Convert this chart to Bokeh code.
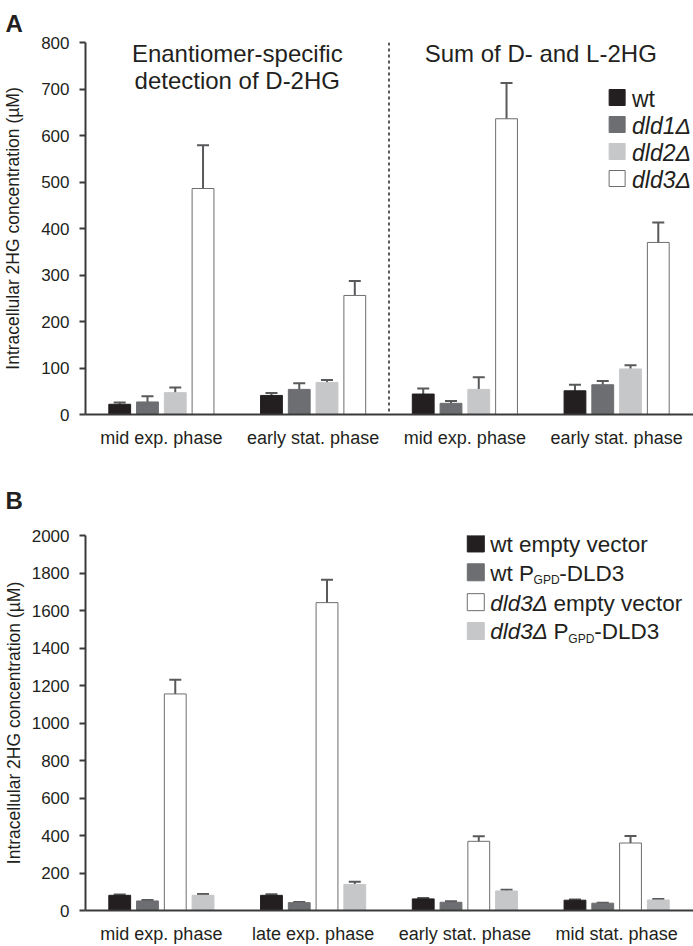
from bokeh.plotting import figure
from bokeh.models import (ColumnDataSource, Whisker, TeeHead, Label, Span,
                          Range1d, FixedTicker)
from bokeh.layouts import column
from bokeh.embed import file_html
from bokeh.resources import INLINE

# ---------------- data ----------------
A_phases = ["mid exp. phase", "early stat. phase", "mid exp. phase", "early stat. phase"]
A_series = ["wt", "dld1\u0394", "dld2\u0394", "dld3\u0394"]
A_wt = [22, 41, 44, 51]
A_wt_err = [4, 5, 12, 13]
A_dld1 = [27, 54, 24, 64]
A_dld1_err = [12, 13, 5, 8]
A_dld2 = [47, 69, 54, 98]
A_dld2_err = [11, 5, 26, 8]
A_dld3 = [486, 256, 636, 370]
A_dld3_err = [93, 31, 77, 43]
A_titles = ["Enantiomer-specific", "detection of D-2HG", "Sum of D- and L-2HG"]
A_yticks = [0, 100, 200, 300, 400, 500, 600, 700, 800]

B_phases = ["mid exp. phase", "late exp. phase", "early stat. phase", "mid stat. phase"]
B_wt_ev = [81, 81, 62, 55]
B_wt_ev_err = [5, 6, 5, 4]
B_wt_pgpd = [51, 42, 44, 39]
B_wt_pgpd_err = [5, 4, 5, 3]
B_dld3_ev = [1155, 1642, 369, 360]
B_dld3_ev_err = [76, 122, 27, 37]
B_dld3_pgpd = [81, 139, 104, 56]
B_dld3_pgpd_err = [7, 15, 7, 6]
B_yticks = [0, 200, 400, 600, 800, 1000, 1200, 1400, 1600, 1800, 2000]

Y_LABEL = "Intracellular 2HG concentration (\u00b5M)"

# ---------------- style ----------------
FONT = "Liberation Sans"
TXT = "#231f20"
BLACK = "#231f20"
DARK = "#6d6e71"
LIGHT = "#c6c7c9"
WHITE = "#ffffff"
EDGE = "#6d6e71"
ERR = "#58595b"
AXIS = "#3a3a3a"

PX_GROUP = 153.0
BAR_W = 22 / PX_GROUP
BAR_STEP = 28 / PX_GROUP

# Arial / Liberation Sans advance widths (per 1000 em)
W = {"w": 722, "t": 278, " ": 278, "P": 667, "e": 556, "m": 833, "p": 556, "y": 500,
     "v": 500, "c": 500, "o": 556, "r": 333, "-": 333, "D": 722, "L": 556, "3": 556,
     "G": 778, "d": 556, "l": 222, "\u0394": 668}


def tw(s, size):
    return sum(W.get(ch, 556) for ch in s) / 1000.0 * size


def ax(px):
    return (px - 80) / PX_GROUP


def ayA(py):
    return (414 - py) / 372.0 * 800


def ayB(py):
    # py in page pixels; panel B frame spans page 535..912
    return (912 - py) / 377.0 * 2000


def base_fig(height, ymax, yticks, phases, top, bottom, lstand, alstand, letter, tstand):
    p = figure(width=693, height=height, output_backend="svg", toolbar_location=None,
               x_range=Range1d(0, 613 / PX_GROUP), y_range=Range1d(0, ymax),
               min_border_left=80, min_border_right=0, min_border_top=top,
               min_border_bottom=bottom)
    p.xgrid.visible = False
    p.ygrid.visible = False
    p.outline_line_color = None
    p.background_fill_color = "white"
    p.border_fill_color = "white"

    p.title.text = letter
    p.title.align = "left"
    p.title.offset = -80
    p.title.text_font = FONT
    p.title.text_font_size = "24px"
    p.title.text_font_style = "bold"
    p.title.text_color = TXT
    p.title.standoff = tstand

    p.yaxis.ticker = FixedTicker(ticks=yticks, minor_ticks=[])
    p.yaxis.axis_line_color = AXIS
    p.yaxis.axis_line_width = 2
    p.yaxis.major_tick_line_color = AXIS
    p.yaxis.major_tick_line_width = 2
    p.yaxis.major_tick_out = 6
    p.yaxis.major_tick_in = 0
    p.yaxis.minor_tick_line_color = None
    p.yaxis.major_label_text_font = FONT
    p.yaxis.major_label_text_font_size = "17px"
    p.yaxis.major_label_text_color = TXT
    p.yaxis.major_label_standoff = lstand
    p.yaxis.axis_label = Y_LABEL
    p.yaxis.axis_label_text_font = FONT
    p.yaxis.axis_label_text_font_size = "17.5px"
    p.yaxis.axis_label_text_font_style = "normal"
    p.yaxis.axis_label_text_color = TXT
    p.yaxis.axis_label_standoff = alstand

    p.xaxis.ticker = FixedTicker(ticks=[i + 0.5 for i in range(len(phases))], minor_ticks=[])
    p.xaxis.major_label_overrides = {i + 0.5: lab for i, lab in enumerate(phases)}
    p.xaxis.axis_line_color = AXIS
    p.xaxis.axis_line_width = 2
    p.xaxis.major_tick_line_color = None
    p.xaxis.major_tick_out = 0
    p.xaxis.major_tick_in = 0
    p.xaxis.minor_tick_line_color = None
    p.xaxis.major_label_text_font = FONT
    p.xaxis.major_label_text_font_size = "18px"
    p.xaxis.major_label_text_color = TXT
    p.xaxis.major_label_standoff = 13
    return p


def add_series(p, k, vals, errs, fill, line):
    xs = [g + 0.5 + (k - 1.5) * BAR_STEP for g in range(len(vals))]
    src = ColumnDataSource(dict(x=xs, top=vals,
                                upper=[v + e for v, e in zip(vals, errs)],
                                lower=[v - e for v, e in zip(vals, errs)]))
    p.vbar(x="x", top="top", width=BAR_W, bottom=0, source=src,
           fill_color=fill, line_color=line, line_width=1)
    w = Whisker(source=src, base="x", upper="upper", lower="lower",
                line_color=ERR, line_width=2,
                upper_head=TeeHead(size=12, line_color=ERR, line_width=2),
                lower_head=TeeHead(size=12, line_color=ERR, line_width=2))
    p.add_layout(w)


def lab(p, x, y, text, size, style="normal", align="left", baseline="middle"):
    p.add_layout(Label(x=x, y=y, text=text, text_font=FONT, text_font_size=size,
                       text_font_style=style, text_color=TXT, text_align=align,
                       text_baseline=baseline))


# ---------------- Panel A ----------------
pA = base_fig(460, 800, A_yticks, A_phases, 42, 46, 10, 15, "A", 12)
colorsA = [(BLACK, BLACK), (DARK, DARK), (LIGHT, LIGHT), (WHITE, EDGE)]
for k, (vals, errs) in enumerate([(A_wt, A_wt_err), (A_dld1, A_dld1_err),
                                  (A_dld2, A_dld2_err), (A_dld3, A_dld3_err)]):
    add_series(pA, k, vals, errs, *colorsA[k])

pA.add_layout(Span(location=2, dimension="height", line_color="#231f20",
                   line_width=1.5, line_dash="3 3"))

lab(pA, 1.0, ayA(53), A_titles[0], "24px", align="center")
lab(pA, 1.0, ayA(80), A_titles[1], "24px", align="center")
lab(pA, 3.0, ayA(53), A_titles[2], "24px", align="center")

rowsA = [97, 124, 151, 178]
pA.scatter(x=[ax(616)] * 4, y=[ayA(r) for r in rowsA], marker="square", size=16,
           fill_color=[c[0] for c in colorsA], line_color=[c[1] for c in colorsA],
           line_width=1)
for i, name in enumerate(A_series):
    lab(pA, ax(631), ayA(rowsA[i] + 1), name, "23px",
        style="normal" if i == 0 else "italic")

# ---------------- Panel B ----------------
pB = base_fig(486, 2000, B_yticks, B_phases, 75, 34, 10, 5, "B", 44)
colorsB = [(BLACK, BLACK), (DARK, DARK), (WHITE, EDGE), (LIGHT, LIGHT)]
for k, (vals, errs) in enumerate([(B_wt_ev, B_wt_ev_err), (B_wt_pgpd, B_wt_pgpd_err),
                                  (B_dld3_ev, B_dld3_ev_err), (B_dld3_pgpd, B_dld3_pgpd_err)]):
    add_series(pB, k, vals, errs, *colorsB[k])

rowsB = [543, 572, 602, 631]
pB.scatter(x=[ax(473.5)] * 4, y=[ayB(r) for r in rowsB], marker="square", size=17,
           fill_color=[c[0] for c in colorsB], line_color=[c[1] for c in colorsB],
           line_width=1)

LS = 22.5
SS = 12
x0 = 488


def sub_entry(p, row, parts):
    # parts: list of (text, style, kind) kind: 'main' or 'sub'
    xpx = x0
    for text, style, kind in parts:
        size = SS if kind == "sub" else LS
        stripped = text.lstrip(" ")
        xpx += tw(text[:len(text) - len(stripped)], size)
        yy = ayB(row + 8) if kind == "sub" else ayB(row + 1)
        lab(p, ax(xpx), yy, stripped, f"{size}px", style=style)
        xpx += tw(stripped, size)


sub_entry(pB, rowsB[0], [("wt empty vector", "normal", "main")])
sub_entry(pB, rowsB[1], [("wt P", "normal", "main"), ("GPD", "normal", "sub"),
                         ("-DLD3", "normal", "main")])
sub_entry(pB, rowsB[2], [("dld3\u0394", "italic", "main"), (" empty vector", "normal", "main")])
sub_entry(pB, rowsB[3], [("dld3\u0394", "italic", "main"), (" P", "normal", "main"),
                         ("GPD", "normal", "sub"), ("-DLD3", "normal", "main")])

layout = column(pA, pB, spacing=0)
open("out.html", "w").write(file_html(layout, INLINE))
